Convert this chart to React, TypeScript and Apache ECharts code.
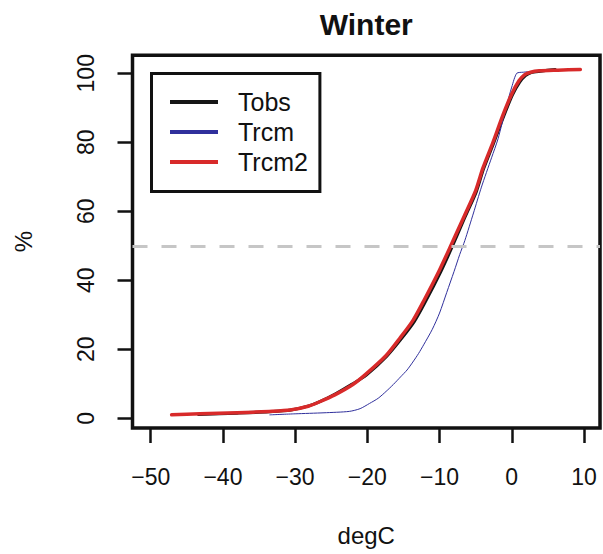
import React, { useEffect, useRef } from "react";
import * as echarts from "echarts";

const FONT = '"Liberation Sans", Arial, Helvetica, sans-serif';

const xTicks = [-50, -40, -30, -20, -10, 0, 10];
const yTicks = [0, 20, 40, 60, 80, 100];
const seriesNames = ["Tobs", "Trcm", "Trcm2"];
const seriesColors = ["#161616", "#30309c", "#d82a2a"];
const refLevel = 50;

const tobsTemp = [-43.4, -38, -33.6, -30.6, -28.1, -26.5, -24.4, -22.1, -20.1, -17.3, -15.3, -13.5, -12.0, -9.8, -8.4, -6.5, -4.9, -3.9, -2.5, -1.1, 0.1, 1.1, 1.9, 2.7, 4.0, 6.0];
const tobsPct = [1.1, 1.5, 1.9, 2.4, 3.6, 4.9, 7.1, 9.9, 12.6, 18.0, 23.0, 28.0, 33.6, 42.6, 49.0, 58.2, 65.7, 72.3, 79.8, 87.6, 93.7, 97.4, 99.3, 100.2, 100.6, 101.1];

const rcmTemp = [-33.5, -30, -26, -22.5, -21, -19.7, -18.5, -17.4, -16.4, -15.4, -14.5, -13.7, -12.9, -12.2, -11, -10, -9, -8, -7.2, -6.5, -5.3, -4.2, -2.8, -1.9, -0.8, 0, 0.7, 1.6, 2.7, 4.5];
const rcmPct = [1.0, 1.3, 1.6, 2.0, 2.8, 4.3, 5.8, 7.8, 9.8, 12.0, 14.0, 16.3, 18.8, 21.3, 25.8, 30.5, 36.5, 42.5, 47.5, 51.5, 59.5, 67, 75.5, 81, 90, 96, 100, 100.3, 100.5, 100.8];

const rcm2Temp = [-47.1, -43.2, -38, -33.6, -30.7, -28.2, -26.6, -24.5, -22.0, -20.2, -17.4, -15.5, -13.7, -12.2, -10.0, -8.6, -6.6, -5, -4, -2.6, -1.2, 0, 1.0, 1.8, 2.6, 3.8, 6.4, 9.5];
const rcm2Pct = [1.0, 1.3, 1.6, 2.0, 2.4, 3.5, 4.8, 6.8, 9.8, 12.8, 18.2, 23.2, 28.3, 34, 43, 49.3, 58.5, 66, 72.5, 80, 88, 94, 97.8, 99.6, 100.3, 100.7, 100.9, 101.1];

const pairs = (xs: number[], ys: number[]) => xs.map((x, i) => [x, ys[i]]);
const fmt = (v: number) => (v < 0 ? "\u2212" + Math.abs(v) : String(v));

export default function App() {
  const ref = useRef<HTMLDivElement>(null);
  useEffect(() => {
    const chart = echarts.init(ref.current!, null, { renderer: "svg" });
    const widths = [3, 1, 3.5];
    const datas = [pairs(tobsTemp, tobsPct), pairs(rcmTemp, rcmPct), pairs(rcm2Temp, rcm2Pct)];
    chart.setOption({
      animation: false,
      backgroundColor: "#ffffff",
      textStyle: { fontFamily: FONT },
      title: {
        text: "Winter",
        left: 366.25,
        top: 9.6,
        textAlign: "center",
        padding: 0,
        textStyle: { fontSize: 30, fontWeight: "bold", color: "#111", fontFamily: FONT },
      },
      grid: {
        left: 132.5,
        right: 3,
        top: 55.3,
        bottom: 126,
        show: true,
        borderColor: "#111",
        borderWidth: 3.5,
        backgroundColor: "transparent",
        containLabel: false,
        outerBoundsMode: "none",
      },
      legend: {
        orient: "vertical",
        left: 151.5,
        top: 73.5,
        padding: [16, 12, 17, 18.5],
        borderColor: "#111",
        borderWidth: 3,
        itemWidth: 48,
        itemHeight: 4,
        itemGap: 5,
        icon: "rect",
        selectedMode: false,
        textStyle: { fontSize: 25, color: "#111", fontFamily: FONT, padding: [0, 0, 0, 15] },
        data: seriesNames,
      },
      xAxis: {
        type: "value",
        min: -52.52,
        max: 12.22,
        axisLine: { show: false, onZero: false },
        splitLine: { show: false },
        axisTick: { show: true, customValues: xTicks, length: 15, lineStyle: { color: "#111", width: 2.5 } },
        axisLabel: { customValues: xTicks, formatter: fmt, fontSize: 23, color: "#111", margin: 37.5, fontFamily: FONT },
        name: "degC",
        nameLocation: "middle",
        nameGap: 95,
        nameTextStyle: { fontSize: 24, color: "#111", fontFamily: FONT },
      },
      yAxis: {
        type: "value",
        min: -2.81,
        max: 105.2,
        axisLine: { show: false, onZero: false },
        splitLine: { show: false },
        axisTick: { show: true, customValues: yTicks, length: 15, lineStyle: { color: "#111", width: 2.5 } },
        axisLabel: { customValues: yTicks, fontSize: 23, color: "#111", margin: 35, rotate: 90, fontFamily: FONT },
        name: "%",
        nameLocation: "middle",
        nameGap: 97,
        nameTextStyle: { fontSize: 24, color: "#111", fontFamily: FONT },
      },
      series: seriesNames.map((name, i) => ({
        name,
        type: "line",
        data: datas[i],
        showSymbol: false,
        symbol: "none",
        smooth: 0.25,
        color: seriesColors[i],
        itemStyle: { color: seriesColors[i] },
        lineStyle: { color: seriesColors[i], width: widths[i], join: "round", cap: "round" },
        z: 2 + i,
        markLine:
          i === 2
            ? {
                silent: true,
                symbol: ["none", "none"],
                label: { show: false },
                lineStyle: { color: "#c6c6c6", width: 3, type: [15, 14] },
                data: [{ yAxis: refLevel }],
              }
            : undefined,
      })),
    });
    return () => chart.dispose();
  }, []);
  return <div ref={ref} style={{ position: "fixed", left: 0, top: 0, width: 603, height: 554 }} />;
}
